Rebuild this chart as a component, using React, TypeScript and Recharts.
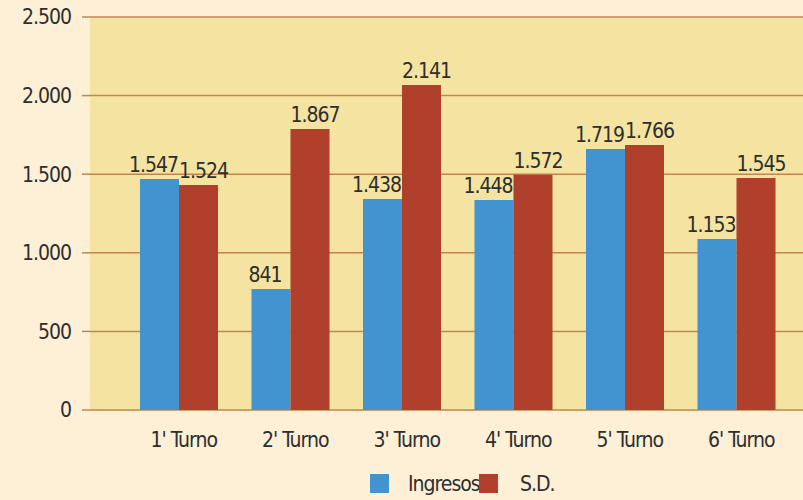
import { BarChart, Bar, XAxis, YAxis, CartesianGrid, Legend, LabelList } from 'recharts';

const categories = ["1' Turno", "2' Turno", "3' Turno", "4' Turno", "5' Turno", "6' Turno"];
// printed values above the bars
const ingresosLabels = [1547, 841, 1438, 1448, 1719, 1153];
const sdLabels = [1524, 1867, 2141, 1572, 1766, 1545];
// bar heights as drawn against the axis
const ingresosBars = [1469, 770, 1342, 1336, 1660, 1088];
const sdBars = [1431, 1787, 2067, 1497, 1686, 1476];
const yTicks = [0, 500, 1000, 1500, 2000, 2500];

const data = categories.map((name, i) => ({
	name,
	ingresos: ingresosBars[i],
	sd: sdBars[i],
	ingresosLabel: ingresosLabels[i],
	sdLabel: sdLabels[i],
}));

const FONT = '"DejaVu Sans Condensed", "Liberation Sans Narrow", sans-serif';
const TEXT = '#2e2e2e';
const BLUE = '#4294d0';
const RED = '#b03f2b';
const GRID = '#c08650';
const FS = 21;
const LS = -1;

const fmt = (v: number) => v.toLocaleString('de-DE');

const textStyle = { fill: TEXT, fontSize: FS, fontFamily: FONT, letterSpacing: LS };

const LegendBox = () => (
	<div style={{ position: 'relative', width: 803, height: 30, fontFamily: FONT, fontSize: FS, letterSpacing: LS, color: TEXT }}>
		<span style={{ position: 'absolute', left: 370, top: 4, width: 19, height: 19, background: BLUE }} />
		<span style={{ position: 'absolute', left: 408, top: 1, lineHeight: '26px' }}>Ingresos</span>
		<span style={{ position: 'absolute', left: 479, top: 4, width: 19, height: 19, background: RED }} />
		<span style={{ position: 'absolute', left: 520, top: 1, lineHeight: '26px' }}>S.D.</span>
	</div>
);

const App = () => {
	return (
		<div style={{ position: 'absolute', left: 0, top: 0, width: 803, height: 500, background: '#fdf0d6' }}>
			<BarChart
				width={803}
				height={500}
				data={data}
				margin={{ top: 17, right: 0, bottom: 0, left: 0 }}
				barGap={0}
				barSize={39}
			>
				<CartesianGrid vertical={false} stroke={GRID} strokeWidth={1.5} fill="#f4e3a1" fillOpacity={1} />
				<XAxis
					dataKey="name"
					axisLine={false}
					tickLine={false}
					tickSize={0}
					tickMargin={22}
					height={60}
					padding={{ left: 33, right: 11 }}
					tick={{ ...textStyle, dx: 5 }}
				/>
				<YAxis
					width={90}
					domain={[0, 2500]}
					ticks={yTicks}
					axisLine={false}
					tickLine={{ stroke: GRID, strokeWidth: 1.5 }}
					tickSize={8}
					tickMargin={11}
					tickFormatter={fmt}
					tick={textStyle}
				/>
				<Legend verticalAlign="bottom" content={() => <LegendBox />} wrapperStyle={{ left: 0, width: 803, height: 30 }} />
				<Bar dataKey="ingresos" name="Ingresos" fill={BLUE} isAnimationActive={false}>
					<LabelList
						dataKey="ingresosLabel"
						position="top"
						offset={7}
						formatter={(v: any) => fmt(Number(v))}
						style={textStyle}
						dx={-6}
					/>
				</Bar>
				<Bar dataKey="sd" name="S.D." fill={RED} isAnimationActive={false}>
					<LabelList
						dataKey="sdLabel"
						position="top"
						offset={7}
						formatter={(v: any) => fmt(Number(v))}
						style={textStyle}
						dx={5}
					/>
				</Bar>
			</BarChart>
		</div>
	);
};

export default App;
